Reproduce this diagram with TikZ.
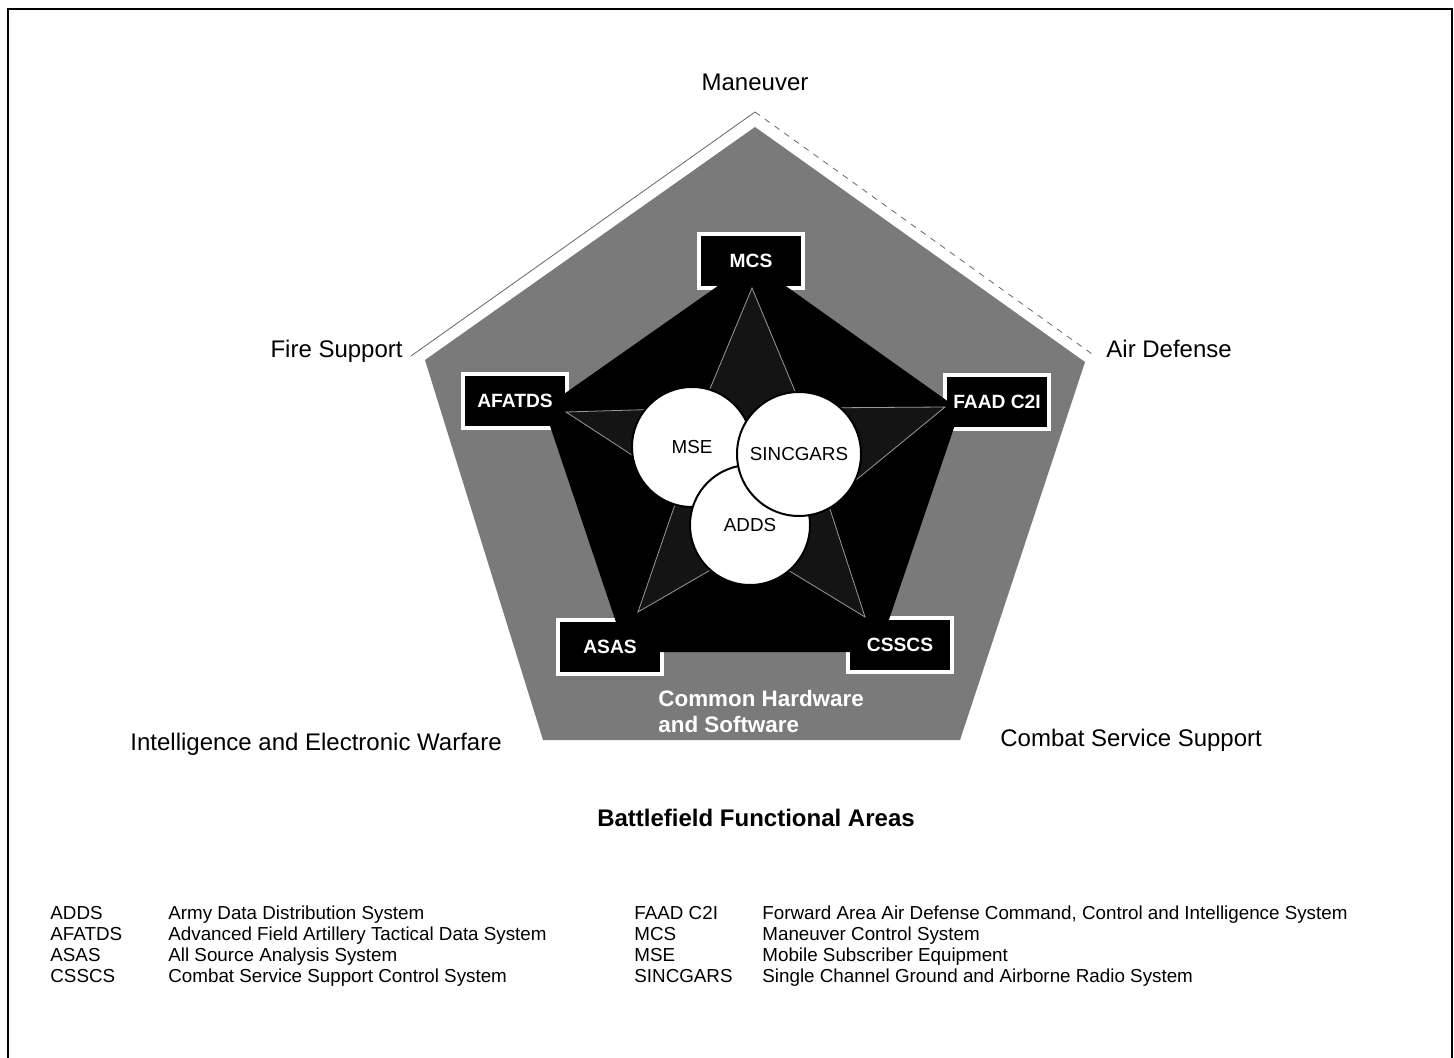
\documentclass[tikz,border=0pt]{standalone}
\usepackage{fontspec}
\setmainfont{Liberation Sans}
\pgfdeclarelayer{back}
\pgfsetlayers{back,main}
\begin{document}
\begin{tikzpicture}[x=0.5pt,y=-0.5pt,
  area/.style={font=\fontsize{12}{14}\selectfont, inner sep=0pt},
  sysbox/.style={fill=black, text=white, minimum width=50pt, minimum height=25pt, inner sep=0pt, font=\fontsize{9.6}{11}\selectfont\bfseries},
  hub/.style={circle, fill=white, draw=black, line width=1pt, inner sep=0pt, font=\fontsize{9.4}{11}\selectfont},
  legend/.style={anchor=base west, inner sep=0pt, font=\fontsize{9.4}{11}\selectfont}]
\useasboundingbox (0,0) rectangle (1454,1058);
\draw[line width=0.8pt] (8,1058) -- (8,9) -- (1452,9) -- (1452,1058);
% functional areas
\node[area, anchor=base] (man) at (755,91) {Maneuver};
\node[area, anchor=base east] (fire) at (403,358) {Fire Support};
\node[area, anchor=base west] (air) at (1106,358) {Air Defense};
\node[area, anchor=base west] (iew) at (130,750) {Intelligence and Electronic Warfare};
\node[area, anchor=base west] (css) at (1000,746) {Combat Service Support};
\node[area, anchor=base, font=\fontsize{12}{14}\selectfont\bfseries] (bfa) at (756,826) {Battlefield Functional Areas};
\coordinate (top) at (755,112);
\coordinate (fsend) at (411,356);
\coordinate (adend) at (1092,354);
% systems
\node[sysbox] (mcs) at (751,261) {MCS};
\node[sysbox] (afatds) at (515,401) {AFATDS};
\node[sysbox] (faad) at (997,402) {FAAD C2I};
\node[sysbox] (asas) at (610,647) {ASAS};
\node[sysbox] (csscs) at (900,645) {CSSCS};
\begin{pgfonlayer}{back}
\fill[black!52] (755,127) -- (1085,362) -- (960,740) -- (543,740) -- (425,360) -- cycle;
\draw[black!60, line width=0.4pt] (fsend) -- (top);
\draw[black!60, line width=0.4pt, dash pattern=on 3pt off 3pt] (top) -- (adend);
\foreach \b in {mcs,afatds,faad,asas,csscs}
  \draw[white, line width=4pt] (\b.south west) rectangle (\b.north east);
\fill[black] (752,262) -- (960,410) -- (878,652) -- (626,652) -- (544,408) -- cycle;
\draw[black!40, fill=black!92, line width=0.4pt] (752,288) -- (802,408) -- (945,407) -- (828,503) -- (865,617)
  -- (750,547) -- (638,612) -- (681,487) -- (566,412) -- (702,408) -- cycle;
\end{pgfonlayer}
\node[white, anchor=north west, align=left, inner sep=0pt, font=\fontsize{11.2}{13}\selectfont\bfseries] (chs) at (658,690) {Common Hardware\\and Software};
% communications
\node[hub, minimum size=60pt] (mse) at (692,447) {MSE};
\node[hub, minimum size=60pt] (adds) at (750,525) {ADDS};
\node[hub, minimum size=62pt] (sinc) at (799,454) {SINCGARS};
% legend
\node[legend] (l1a) at (50,919) {ADDS};
\node[legend] (l1b) at (168,919) {Army Data Distribution System};
\node[legend] (l2a) at (50,940) {AFATDS};
\node[legend] (l2b) at (168,940) {Advanced Field Artillery Tactical Data System};
\node[legend] (l3a) at (50,961) {ASAS};
\node[legend] (l3b) at (168,961) {All Source Analysis System};
\node[legend] (l4a) at (50,982) {CSSCS};
\node[legend] (l4b) at (168,982) {Combat Service Support Control System};
\node[legend] (l5a) at (634,919) {FAAD C2I};
\node[legend] (l5b) at (762,919) {Forward Area Air Defense Command, Control and Intelligence System};
\node[legend] (l6a) at (634,940) {MCS};
\node[legend] (l6b) at (762,940) {Maneuver Control System};
\node[legend] (l7a) at (634,961) {MSE};
\node[legend] (l7b) at (762,961) {Mobile Subscriber Equipment};
\node[legend] (l8a) at (634,982) {SINCGARS};
\node[legend] (l8b) at (762,982) {Single Channel Ground and Airborne Radio System};
\end{tikzpicture}
\end{document}
